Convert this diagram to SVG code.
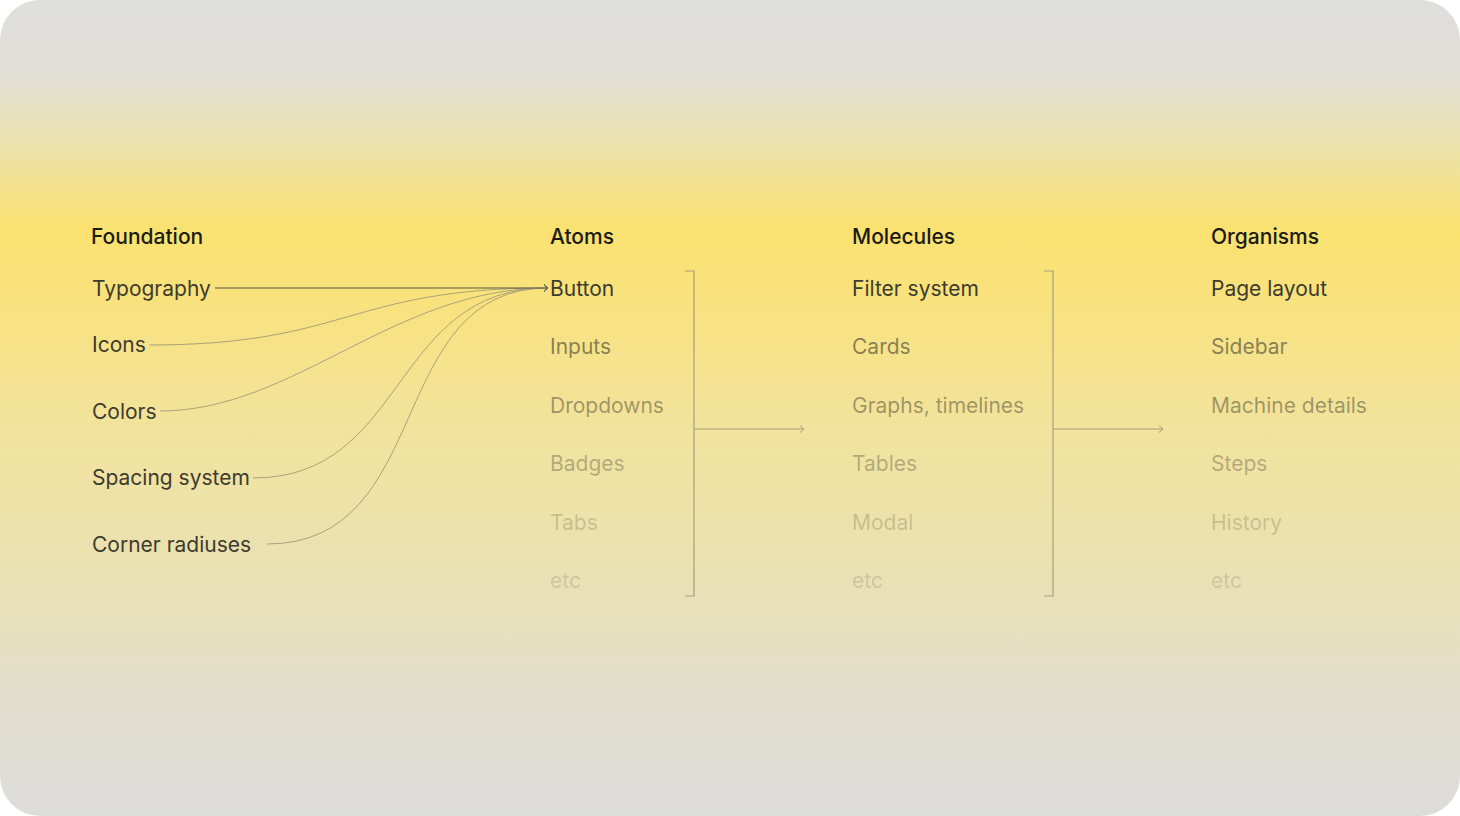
<svg xmlns="http://www.w3.org/2000/svg" width="1460" height="816" viewBox="0 0 1460 816">
<defs>
<linearGradient id="bg" x1="0" y1="0" x2="0" y2="1">
<stop offset="0" stop-color="#dededd"/>
<stop offset="0.09" stop-color="#e0ded6"/>
<stop offset="0.17" stop-color="#eae1b0"/>
<stop offset="0.28" stop-color="#fae270"/>
<stop offset="0.36" stop-color="#f9e27c"/>
<stop offset="0.52" stop-color="#f2e39c"/>
<stop offset="0.7" stop-color="#eae1b2"/>
<stop offset="0.84" stop-color="#e2decb"/>
<stop offset="1" stop-color="#dcdcdb"/>
</linearGradient>
<marker id="arr" markerWidth="10" markerHeight="10" refX="7" refY="4" orient="auto" markerUnits="userSpaceOnUse">
<path d="M3,0.5 L7,4 L3,7.5" fill="none" stroke="#5a5640" stroke-width="1"/>
</marker>
<marker id="arr2" markerWidth="10" markerHeight="10" refX="7" refY="4" orient="auto" markerUnits="userSpaceOnUse">
<path d="M3,0.5 L7,4 L3,7.5" fill="none" stroke="#a8a078" stroke-width="1"/>
</marker>
<style>
text{font-family:Inter,"Liberation Sans",sans-serif;font-size:21px;}
.h{fill:#1b1a14;font-weight:500;}
.f{fill:#3d3b2e;}
.l0{fill:#3d3b2e;}
.l1{fill:#3d3b2e;fill-opacity:0.6;}
.l2{fill:#3d3b2e;fill-opacity:0.47;}
.l3{fill:#3d3b2e;fill-opacity:0.35;}
.l4{fill:#3d3b2e;fill-opacity:0.22;}
.l5{fill:#3d3b2e;fill-opacity:0.18;}
.c{fill:none;stroke:#aaa27a;stroke-width:1;}
.br{fill:none;stroke:#a8a07c;stroke-width:1.2;}
</style>
</defs>
<rect x="0" y="0" width="1460" height="816" fill="#ffffff"/>
<rect x="0" y="0" width="1460" height="816" rx="40" ry="40" fill="url(#bg)"/>

<g id="connectors">
<path class="c" d="M149,345 C349,345 348,288 548,288" marker-end="url(#arr2)"/>
<path class="c" d="M160,411 C294,411 394,288 548,288" marker-end="url(#arr2)"/>
<path class="c" d="M253,478 C408,478 390,288 548,288" marker-end="url(#arr2)"/>
<path class="c" d="M267,544 C436,544 384,288 548,288" marker-end="url(#arr2)"/>
<path d="M215,288 L548,288" fill="none" stroke="#5a5640" stroke-width="1" marker-end="url(#arr)"/>
<path class="br" d="M685,271 L694,271 L694,596 L685,596"/>
<path class="br" d="M694,429 L804,429" marker-end="url(#arr2)"/>
<path class="br" d="M1044,271 L1053,271 L1053,596 L1044,596"/>
<path class="br" d="M1053,429 L1163,429" marker-end="url(#arr2)"/>
</g>

<g id="foundation">
<text class="h" x="91" y="244">Foundation</text>
<text class="f" x="92" y="296">Typography</text>
<text class="f" x="92" y="352">Icons</text>
<text class="f" x="92" y="419">Colors</text>
<text class="f" x="92" y="485">Spacing system</text>
<text class="f" x="92" y="552">Corner radiuses</text>
</g>

<g id="atoms">
<text class="h" x="550" y="244">Atoms</text>
<text class="l0" x="550" y="296">Button</text>
<text class="l1" x="550" y="354">Inputs</text>
<text class="l2" x="550" y="413">Dropdowns</text>
<text class="l3" x="550" y="471">Badges</text>
<text class="l4" x="550" y="530">Tabs</text>
<text class="l5" x="550" y="588">etc</text>
</g>

<g id="molecules">
<text class="h" x="852" y="244">Molecules</text>
<text class="l0" x="852" y="296">Filter system</text>
<text class="l1" x="852" y="354">Cards</text>
<text class="l2" x="852" y="413">Graphs, timelines</text>
<text class="l3" x="852" y="471">Tables</text>
<text class="l4" x="852" y="530">Modal</text>
<text class="l5" x="852" y="588">etc</text>
</g>

<g id="organisms">
<text class="h" x="1211" y="244">Organisms</text>
<text class="l0" x="1211" y="296">Page layout</text>
<text class="l1" x="1211" y="354">Sidebar</text>
<text class="l2" x="1211" y="413">Machine details</text>
<text class="l3" x="1211" y="471">Steps</text>
<text class="l4" x="1211" y="530">History</text>
<text class="l5" x="1211" y="588">etc</text>
</g>
</svg>
